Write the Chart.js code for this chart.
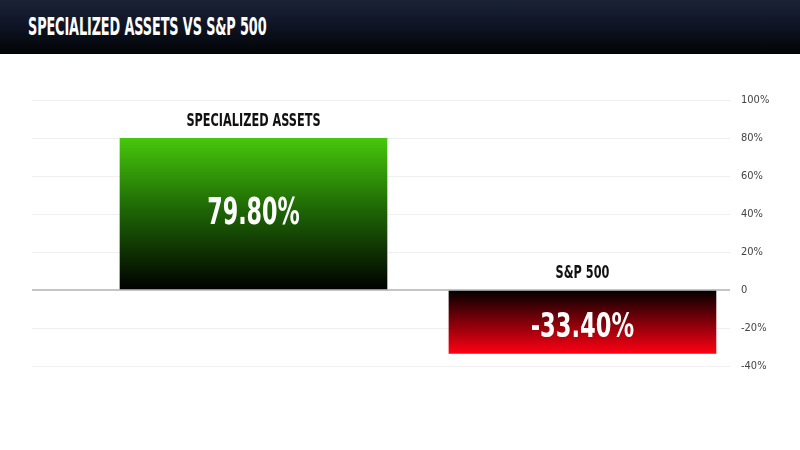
<!DOCTYPE html>
<html>
<head>
<meta charset="utf-8">
<script src="https://cdn.jsdelivr.net/npm/chart.js@4.4.1/dist/chart.umd.min.js"></script>
<style>
  html, body { margin: 0; padding: 0; background: #fff; }
  body { width: 800px; height: 450px; overflow: hidden; }
  .header {
    height: 54px;
    background: linear-gradient(to bottom, #1a2236 0%, #0f1526 45%, #020304 100%);
    position: relative;
  }
  .header h1 {
    margin: 0;
    position: absolute;
    left: 28px;
    top: 12px;
    color: #fff;
    font-family: "DejaVu Sans", sans-serif;
    font-weight: bold;
    font-size: 24px;
    line-height: 30px;
    letter-spacing: -0.2px;
    transform: scaleX(0.535);
    transform-origin: left center;
    white-space: nowrap;
  }
  .wrap { position: relative; width: 800px; height: 396px; }
</style>
</head>
<body>
<div class="header"><h1>SPECIALIZED ASSETS VS S&amp;P 500</h1></div>
<div class="wrap"><canvas id="grafico"></canvas></div>
<script>
const categorias = ["SPECIALIZED ASSETS", "S&P 500"];
const retornos = [79.8, -33.4];
const ticksY = [-40, -20, 0, 20, 40, 60, 80, 100];

const fonte = '"DejaVu Sans", sans-serif';

function gradiente(context) {
    const chart = context.chart;
    const { ctx, chartArea, scales } = chart;
    if (!chartArea) return "#3fbf0a";
    const v = context.raw.y;
    const yTop = scales.y.getPixelForValue(Math.max(v, 0));
    const yBot = scales.y.getPixelForValue(Math.min(v, 0));
    const g = ctx.createLinearGradient(0, yTop, 0, yBot);
    if (v >= 0) {
        g.addColorStop(0, "#47c70b");
        g.addColorStop(0.45, "#1f6a05");
        g.addColorStop(1, "#000000");
    } else {
        g.addColorStop(0, "#000000");
        g.addColorStop(0.5, "#80000a");
        g.addColorStop(1, "#ff0014");
    }
    return g;
}

// draws text squeezed horizontally to mimic the condensed poster font
function textoEstreito(ctx, txt, x, y, fator) {
    ctx.save();
    ctx.translate(x, y);
    ctx.scale(fator, 1);
    ctx.fillText(txt, 0, 0);
    ctx.restore();
}

const rotulos = {
    id: "rotulos",
    afterDatasetsDraw(chart) {
        const { ctx, scales } = chart;
        const meta = chart.getDatasetMeta(0);
        const zero = scales.y.getPixelForValue(0);
        ctx.save();
        ctx.textAlign = "center";
        meta.data.forEach((bar, i) => {
            const v = retornos[i];
            const topo = Math.min(bar.y, zero);
            ctx.fillStyle = "#111";
            ctx.font = "bold 17px " + fonte;
            ctx.textBaseline = "alphabetic";
            textoEstreito(ctx, categorias[i], bar.x, topo - 12, 0.665);
            ctx.fillStyle = "#fff";
            ctx.font = "bold " + (v >= 0 ? 38 : 34) + "px " + fonte;
            ctx.textBaseline = "middle";
            const meio = (bar.y + zero) / 2 + (v >= 0 ? 0 : 6);
            textoEstreito(ctx, v.toFixed(2) + "%", bar.x, meio, v >= 0 ? 0.585 : 0.665);
        });
        ctx.restore();
    }
};

const ctx = document.getElementById("grafico").getContext("2d");
new Chart(ctx, {
    type: "bar",
    data: {
        datasets: [{
            data: retornos.map((v, i) => ({ x: i + 1, y: v })),
            backgroundColor: gradiente,
            borderWidth: 0,
            barThickness: 267
        }]
    },
    options: {
        responsive: true,
        maintainAspectRatio: false,
        animation: false,
        layout: { padding: { left: 32, right: 0, top: 46, bottom: 84 } },
        plugins: {
            legend: { display: false },
            tooltip: { enabled: false }
        },
        scales: {
            x: {
                type: "linear",
                offset: false,
                min: 0.3267,
                max: 2.412,
                display: false
            },
            y: {
                position: "right",
                min: -40,
                max: 100,
                afterBuildTicks: s => { s.ticks = ticksY.map(v => ({ value: v })); },
                afterFit: s => { s.width = 82; },
                border: { display: false },
                grid: {
                    color: c => c.tick.value === 0 ? "#c4c4c4" : "#efefef",
                    lineWidth: c => c.tick.value === 0 ? 2 : 1,
                    tickLength: 12
                },
                ticks: {
                    padding: 11,
                    color: "#444",
                    font: { family: '"DejaVu Sans Condensed", "Liberation Sans Narrow", "DejaVu Sans", sans-serif', size: 11 },
                    callback: v => v === 0 ? "0" : v + "%"
                }
            }
        }
    },
    plugins: [rotulos]
});
</script>
</body>
</html>
